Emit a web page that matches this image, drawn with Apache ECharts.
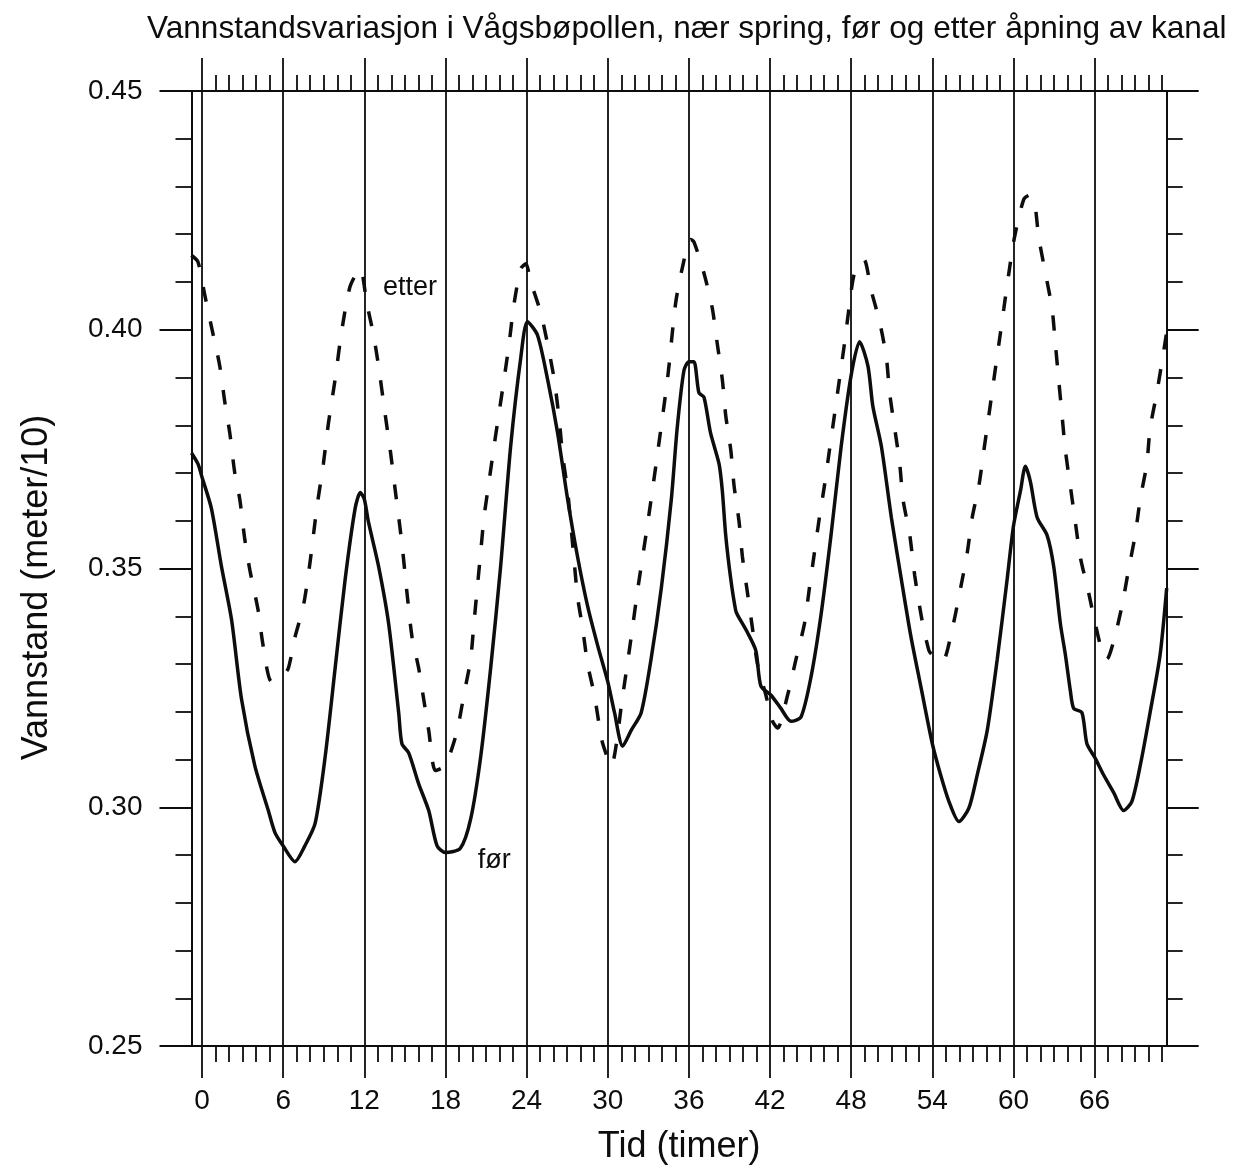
<!DOCTYPE html>
<html>
<head>
<meta charset="utf-8">
<script src="https://cdn.jsdelivr.net/npm/echarts@6/dist/echarts.min.js"></script>
<style>
html,body{margin:0;padding:0;background:#ffffff;}
#chart{width:1234px;height:1170px;}
</style>
</head>
<body>
<div id="chart"></div>
<script>
// ---- Data ----
const chartTitle = 'Vannstandsvariasjon i Vågsbøpollen, nær spring, før og etter åpning av kanal';
const xAxisName = 'Tid (timer)';
const yAxisName = 'Vannstand (meter/10)';

// "før" (solid)
const forHours = [-0.78,-0.3,0,0.69,1.43,2.18,2.92,3.9,4.9,5.39,6.0,6.87,7.6,8.36,9.1,9.84,10.58,11.32,11.7,12.0,12.3,13.05,13.8,14.54,14.78,15.28,16.02,16.76,17.38,18.0,19.1,19.86,20.6,21.34,22.08,22.82,23.57,24.06,24.8,25.55,26.29,27.03,27.77,28.51,29.26,30.0,30.5,31.1,31.73,32.47,33.2,33.96,34.7,35.13,35.63,36.0,36.37,36.74,37.11,37.6,38.23,38.47,38.72,39.1,39.46,39.59,40.33,40.95,41.32,42.06,42.8,43.55,44.29,45.03,45.77,46.51,47.26,48.0,48.62,49.24,49.6,50.23,50.97,51.71,52.4,53.17,54.0,54.61,55.23,55.97,56.7,57.32,58.06,58.8,59.53,60.0,60.52,60.88,61.25,61.75,62.48,62.97,63.47,63.84,64.2,64.45,65.06,65.43,66.0,66.66,67.4,68.14,68.75,69.37,70.1,70.84,71.33];
const forLevel = [0.3742,0.3719,0.3691,0.3626,0.3505,0.3393,0.3226,0.3087,0.2993,0.2947,0.2919,0.2886,0.2919,0.2966,0.3105,0.3291,0.3477,0.3626,0.3659,0.3645,0.3598,0.3505,0.3384,0.3198,0.3133,0.3114,0.3049,0.2993,0.2919,0.2905,0.2914,0.2975,0.3105,0.3291,0.3505,0.3756,0.3942,0.4017,0.3989,0.3896,0.3784,0.3645,0.3524,0.3421,0.3338,0.3263,0.3198,0.3128,0.3161,0.3198,0.3310,0.3459,0.3645,0.3793,0.3914,0.3933,0.3933,0.3868,0.3859,0.3784,0.3719,0.3663,0.3570,0.3477,0.3412,0.3403,0.3366,0.3328,0.3254,0.3235,0.3207,0.3180,0.3189,0.3273,0.3403,0.3570,0.3756,0.3905,0.3975,0.3924,0.3840,0.3756,0.3607,0.3477,0.3360,0.3250,0.3133,0.3068,0.3012,0.2970,0.2998,0.3068,0.3161,0.3310,0.3477,0.3589,0.3663,0.3714,0.3682,0.3607,0.3570,0.3505,0.3384,0.3319,0.3245,0.3207,0.3198,0.3133,0.3105,0.3068,0.3031,0.2993,0.3012,0.3087,0.3198,0.3319,0.3459];

// "etter" (dashed)
const etterHours = [-0.79,-0.3,0.2,0.69,1.31,1.68,2.05,2.42,2.79,3.16,3.54,4.15,4.52,5.14,6.0,6.38,6.87,7.49,7.99,8.48,8.97,9.34,9.84,10.33,10.95,11.69,12.19,12.68,13.05,13.55,13.92,14.29,14.78,15.15,15.53,16.02,16.39,16.76,17.26,18.0,18.37,18.87,19.36,19.86,20.1,20.35,20.6,20.85,21.22,21.59,21.96,22.33,22.7,23.07,23.57,23.94,24.31,25.05,25.55,26.04,26.41,26.66,27.03,27.28,27.52,27.77,28.14,28.51,29.01,29.38,29.63,30.25,31.11,31.73,32.23,32.97,33.71,34.45,35.01,35.5,36.12,36.37,37.11,37.73,38.1,38.47,38.72,39.1,39.34,39.71,39.96,40.33,40.7,41.07,41.69,42.19,42.56,43.3,43.92,44.54,44.91,45.28,45.65,46.02,46.39,46.76,47.13,47.5,47.88,48.25,48.94,49.48,50.1,50.6,50.84,51.22,51.59,51.83,52.33,52.7,53.23,53.75,54.0,54.74,55.48,56.09,56.58,56.95,57.44,57.81,58.18,58.55,58.92,59.29,59.66,60.07,60.76,61.2,61.55,61.87,62.36,62.85,63.1,63.34,63.59,63.84,64.2,64.57,64.94,65.56,66.05,66.54,66.91,67.4,68.02,68.5,69.0,69.37,69.86,70.1,70.6,71.09,71.33];
const etterLevel = [0.4156,0.4142,0.4073,0.4007,0.3924,0.3849,0.3784,0.3700,0.3645,0.3561,0.3496,0.3412,0.3338,0.3263,0.3277,0.3291,0.3356,0.3421,0.3514,0.3626,0.3719,0.3803,0.3896,0.3998,0.4091,0.4128,0.4054,0.3989,0.3924,0.3821,0.3747,0.3663,0.3552,0.3450,0.3356,0.3291,0.3226,0.3161,0.3077,0.3087,0.3114,0.3161,0.3235,0.3310,0.3384,0.3459,0.3533,0.3607,0.3682,0.3756,0.3826,0.3896,0.3970,0.4054,0.4128,0.4138,0.4100,0.4035,0.3970,0.3896,0.3812,0.3738,0.3663,0.3589,0.3514,0.3440,0.3375,0.3300,0.3235,0.3170,0.3133,0.3087,0.3235,0.3356,0.3459,0.3598,0.3747,0.3905,0.4054,0.4128,0.4189,0.4184,0.4119,0.4045,0.3970,0.3896,0.3821,0.3747,0.3673,0.3598,0.3524,0.3449,0.3375,0.3300,0.3235,0.3180,0.3166,0.3235,0.3310,0.3384,0.3459,0.3533,0.3607,0.3673,0.3747,0.3821,0.3896,0.3970,0.4054,0.4119,0.4147,0.4082,0.4017,0.3942,0.3868,0.3793,0.3719,0.3645,0.3570,0.3485,0.3393,0.3328,0.3319,0.3305,0.3375,0.3459,0.3533,0.3607,0.3673,0.3747,0.3821,0.3896,0.3970,0.4045,0.4119,0.4193,0.4273,0.4282,0.4268,0.4193,0.4119,0.4045,0.3970,0.3896,0.3821,0.3747,0.3673,0.3598,0.3524,0.3449,0.3384,0.3328,0.3310,0.3347,0.3421,0.3496,0.3570,0.3645,0.3719,0.3793,0.3868,0.3952,0.3995];

// Axis ticks
const xMajorTicks = [0,6,12,18,24,30,36,42,48,54,60,66];
const xMinorTicks = [1,2,3,4,5,7,8,9,10,11,13,14,15,16,17,19,20,21,22,23,25,26,27,28,29,31,32,33,34,35,37,38,39,40,41,43,44,45,46,47,49,50,51,52,53,55,56,57,58,59,61,62,63,64,65,67,68,69,70,71];
const xRange = [-0.78, 71.33];
const yRange = [0.25, 0.45];
const yStep = 0.05;

// In-plot annotations
const noteText = ['etter', 'før'];
const noteHours = [15.38, 21.6];
const noteLevel = [0.4088, 0.2888];

// ---- Build chart ----
const FONT = '"Liberation Sans", Arial, Helvetica, sans-serif';
const INK = '#0d0d0d';

function pairs(xs, ys) { return xs.map((x, i) => [x, ys[i]]); }

function xAxisDef(position, ticks, tickLen, withLine, withLabels, withSplit) {
  return {
    type: 'value', position: position, min: xRange[0], max: xRange[1],
    axisLine: { show: withLine, onZero: false, lineStyle: { color: INK, width: 2 } },
    axisTick: { show: true, inside: false, length: tickLen, customValues: ticks, lineStyle: { color: INK, width: 1.8 } },
    axisLabel: { show: withLabels, customValues: ticks, margin: 41, fontSize: 28, color: INK, fontFamily: FONT },
    splitLine: { show: withSplit, lineStyle: { color: INK, width: 1.8 } },
    minorTick: { show: false }, minorSplitLine: { show: false }
  };
}

const xAxes = [
  xAxisDef('bottom', xMajorTicks, 32, true, true, true),
  xAxisDef('bottom', xMinorTicks, 16, false, false, false),
  xAxisDef('top', xMajorTicks, 33, true, false, false),
  xAxisDef('top', xMinorTicks, 16, false, false, false)
];
Object.assign(xAxes[0], {
  name: xAxisName, nameLocation: 'middle', nameGap: 83,
  nameTextStyle: { fontSize: 36, color: INK, fontFamily: FONT }
});

function yAxisDef(position, withLabels) {
  return {
    type: 'value', position: position, min: yRange[0], max: yRange[1], interval: yStep,
    axisLine: { show: true, onZero: false, lineStyle: { color: INK, width: 2 } },
    axisTick: { show: true, inside: false, length: 32, lineStyle: { color: INK, width: 1.8 } },
    minorTick: { show: true, splitNumber: 5, length: 16, lineStyle: { color: INK, width: 1.8 } },
    axisLabel: { show: withLabels, margin: 49, fontSize: 28, color: INK, fontFamily: FONT,
                 formatter: v => v.toFixed(2) },
    splitLine: { show: false }
  };
}
const yAxes = [yAxisDef('left', true), yAxisDef('right', false)];
Object.assign(yAxes[0], {
  name: yAxisName, nameLocation: 'middle', nameGap: 136, nameRotate: 90,
  nameTextStyle: { fontSize: 36, color: INK, fontFamily: FONT, padding: [0, 38, 0, 0] }
});

const option = {
  backgroundColor: '#ffffff',
  animation: false,
  title: {
    text: chartTitle, left: 147, top: 13, padding: 0,
    textStyle: { fontSize: 31.6, fontWeight: 'normal', color: INK, fontFamily: FONT }
  },
  grid: { left: 191.5, right: 67.3, top: 91, bottom: 119, containLabel: false },
  xAxis: xAxes,
  yAxis: yAxes,
  series: [
    {
      name: 'før', type: 'line', xAxisIndex: 0, yAxisIndex: 0,
      data: pairs(forHours, forLevel), showSymbol: false, smooth: 0.25,
      lineStyle: { color: INK, width: 3.5 }, z: 3
    },
    {
      name: 'etter', type: 'line', xAxisIndex: 0, yAxisIndex: 0,
      data: pairs(etterHours, etterLevel), showSymbol: false, smooth: 0.25,
      lineStyle: { color: INK, width: 3.5, type: [15, 20] }, z: 3
    },
    {
      name: 'labels', type: 'scatter', xAxisIndex: 0, yAxisIndex: 0,
      symbolSize: 0, silent: true, itemStyle: { opacity: 1, color: INK },
      data: noteText.map((t, i) => ({ name: t, value: [noteHours[i], noteLevel[i]] })),
      label: { show: true, position: 'inside', formatter: p => p.name,
               fontSize: 27, color: INK, fontFamily: FONT }
    }
  ]
};

const chart = echarts.init(document.getElementById('chart'), null, { renderer: 'canvas' });
chart.setOption(option);
</script>
</body>
</html>
